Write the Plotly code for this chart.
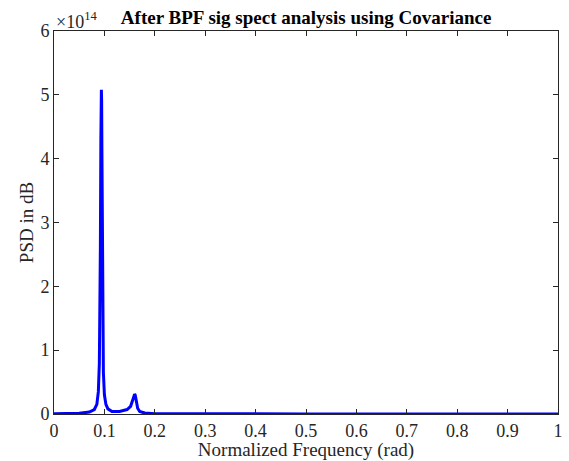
import plotly.graph_objects as go

freq = [0.0, 0.03, 0.05, 0.07, 0.08, 0.085, 0.088, 0.090, 0.091, 0.092, 0.093, 0.0935, 0.094, 0.0945,
        0.095, 0.0955, 0.096, 0.097, 0.098, 0.100, 0.103, 0.107, 0.115, 0.13, 0.145, 0.152, 0.156,
        0.158, 0.160, 0.161, 0.162, 0.164, 0.166, 0.170, 0.18, 0.2, 0.3, 0.5, 1.0]
psd_e14 = [0.002, 0.005, 0.01, 0.03, 0.07, 0.15, 0.35, 0.8, 1.4, 2.6, 4.3, 4.9, 5.08, 4.9,
           4.2, 3.2, 2.3, 1.2, 0.65, 0.3, 0.15, 0.08, 0.04, 0.04, 0.07, 0.12, 0.2,
           0.26, 0.31, 0.30, 0.26, 0.16, 0.09, 0.04, 0.015, 0.005, 0.001, 0.0005, 0.0]
scale = 1e14
psd = [v * scale for v in psd_e14]

x_ticks = [0, 0.1, 0.2, 0.3, 0.4, 0.5, 0.6, 0.7, 0.8, 0.9, 1]
x_tick_text = ["0", "0.1", "0.2", "0.3", "0.4", "0.5", "0.6", "0.7", "0.8", "0.9", "1"]
y_ticks = [0, 1, 2, 3, 4, 5, 6]

font = "Liberation Serif"
axc = "#262626"

fig = go.Figure()
fig.add_trace(go.Scatter(x=freq, y=[v / scale for v in psd], mode="lines",
                         line=dict(color="#0000ff", width=3), showlegend=False))

fig.update_layout(
    width=569, height=461,
    margin=dict(l=54, r=11, t=31, b=47),
    paper_bgcolor="white", plot_bgcolor="white",
    font=dict(family=font, size=18, color=axc),
    title=dict(text="<b>After BPF sig spect analysis using Covariance</b>",
               x=0.538, xanchor="center", y=0.962, yanchor="middle",
               font=dict(family=font, size=19, color="black")),
    xaxis=dict(range=[0, 1], tickvals=x_ticks, ticktext=x_tick_text, automargin=False,
               ticks="inside", ticklen=5, tickcolor=axc, showline=True, linecolor=axc,
               linewidth=1, mirror="ticks", showgrid=False, zeroline=False,
               title=dict(text="Normalized Frequency (rad)", standoff=6,
                          font=dict(family=font, size=19, color=axc)),
               tickfont=dict(family=font, size=18, color=axc)),
    yaxis=dict(range=[0, 6], tickvals=y_ticks, ticktext=[str(t) for t in y_ticks], automargin=False,
               ticks="inside", ticklen=5, tickcolor=axc, showline=True, linecolor=axc,
               linewidth=1, mirror="ticks", showgrid=False, zeroline=False,
               title=dict(text="PSD in dB", standoff=1,
                          font=dict(family=font, size=19, color=axc)),
               tickfont=dict(family=font, size=18, color=axc)),
    annotations=[dict(text="×10<sup>14</sup>", xref="paper", yref="paper", x=0.0, y=1.0,
                      xanchor="left", yanchor="bottom", showarrow=False, yshift=-3,
                      font=dict(family=font, size=18, color=axc))],
)
fig.write_html("out.html")
